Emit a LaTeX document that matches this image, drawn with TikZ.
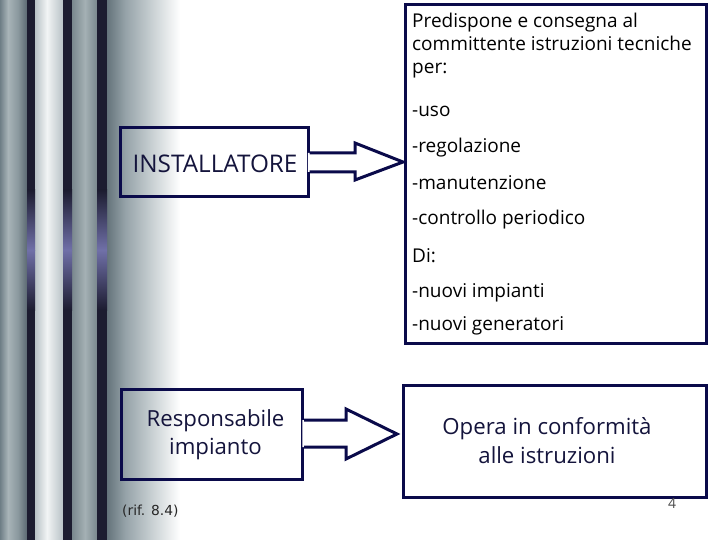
\documentclass[tikz,border=0pt]{standalone}
\usepackage{fontspec}
\setmainfont{Open Sans}
\newfontfamily\verdanalike{DejaVu Sans}
\definecolor{navy}{HTML}{0A0A4A}
\definecolor{txtnavy}{HTML}{14143C}
\definecolor{stripedark}{HTML}{1C1C30}
\definecolor{stripeglow}{HTML}{7070A8}
\definecolor{g0}{HTML}{5F6E76}
\definecolor{g1}{HTML}{95A2A8}
\definecolor{g2}{HTML}{C5CDD0}
\definecolor{s1}{HTML}{6E7E86}
\definecolor{s2}{HTML}{A8B4B8}
\definecolor{s3}{HTML}{8A989E}
\definecolor{s4}{HTML}{5C6A72}
\definecolor{s5}{HTML}{B8C2C6}
\definecolor{s6}{HTML}{F2F4F5}
\definecolor{s7}{HTML}{7A888E}
\definecolor{s8}{HTML}{A4B0B4}
\begin{document}
\begin{tikzpicture}[x=1pt,y=-1pt,
  boxst/.style={draw=navy,line width=3pt,inner sep=0pt},
  arrst/.style={draw=navy,line width=3pt,line join=miter},
  big/.style={font=\fontsize{22.2}{28}\selectfont,text=txtnavy,align=center},
  lst/.style={font=\fontsize{19}{23}\selectfont,anchor=base west,inner sep=0pt,align=left}]
\useasboundingbox (0,0) rectangle (720,540);
\fill[white] (0,0) rectangle (720,540);
% background gradient
\shade[left color=g0, right color=g1] (105,0) rectangle (125,540);
\shade[left color=g1, right color=g2] (125,0) rectangle (150,540);
\shade[left color=g2, right color=white] (150,0) rectangle (180,540);
% stripes
\shade[left color=s1, right color=s2] (0,0) rectangle (8,540);
\shade[left color=s2, right color=s3] (8,0) rectangle (18,540);
\shade[left color=s3, right color=s4] (18,0) rectangle (27,540);
\shade[left color=s5, right color=s6] (35,0) rectangle (47,540);
\shade[left color=s6, right color=s5] (47,0) rectangle (63,540);
\shade[left color=s7, right color=s8] (72,0) rectangle (85,540);
\shade[left color=s8, right color=s7] (85,0) rectangle (97,540);
\foreach \a/\b in {27/35,63/72,97/107}{
  \fill[stripedark] (\a,0) rectangle (\b,190);
  \shade[top color=stripedark,bottom color=stripeglow] (\a,190) rectangle (\b,250);
  \shade[top color=stripeglow,bottom color=stripedark] (\a,250) rectangle (\b,310);
  \fill[stripedark] (\a,310) rectangle (\b,540);
}
% boxes
\node[boxst,minimum width=301pt,minimum height=338pt] (info) at (555.5,174) {};
\node[boxst,minimum width=303pt,minimum height=112pt] (opera) at (554.5,441) {};
\node[boxst,minimum width=188pt,minimum height=69pt] (inst) at (214,162) {};
\node[boxst,minimum width=181pt,minimum height=90pt] (resp) at (212,434) {};
\node[big,font=\fontsize{24.3}{28}\selectfont] at ([xshift=1pt,yshift=-2pt]inst.center) {INSTALLATORE};
\node[big] at ([xshift=3.5pt,yshift=-1pt]resp.center) {Responsabile\\impianto};
\node[big,font=\fontsize{22.2}{29}\selectfont] at ([xshift=-7.5pt]opera.center) {Opera in conformità\\alle istruzioni};
% arrows
\coordinate (t1) at (403,162);
\coordinate (t2) at (397,434);
\fill[white] ([xshift=-1.6pt]inst.east |- 0,153) -- (355,153) -- (355,143) -- (t1) -- (355,180) -- (355,172) -- ([xshift=-1.6pt]inst.east |- 0,172) -- cycle;
\draw[arrst] (inst.east |- 0,153) -- (355,153) -- (355,143) -- (t1) -- (355,180) -- (355,172) -- (inst.east |- 0,172);
\fill[white] ([xshift=-1.6pt]resp.east |- 0,420) -- (346,420) -- (346,409) -- (t2) -- (346,459) -- (346,447) -- ([xshift=-1.6pt]resp.east |- 0,447) -- cycle;
\draw[arrst] (resp.east |- 0,420) -- (346,420) -- (346,409) -- (t2) -- (346,459) -- (346,447) -- (resp.east |- 0,447);
% list text
\node[lst] at (412,27.5) {Predispone e consegna al};
\node[lst] at (412,50.5) {committente istruzioni tecniche};
\node[lst] at (412,73.5) {per:};
\node[lst] at (412,116.5) {-uso};
\node[lst] at (412,153) {-regolazione};
\node[lst] at (412,190) {-manutenzione};
\node[lst] at (412,225) {-controllo periodico};
\node[lst] at (412,262) {Di:};
\node[lst] at (412,297) {-nuovi impianti};
\node[lst] at (412,330.5) {-nuovi generatori};
\node[font=\verdanalike\fontsize{13.8}{15}\selectfont,anchor=base west,inner sep=0pt,text=black!85] (rif) at (122,515) {(rif. 8.4)};
\node[font=\fontsize{14}{16}\selectfont,anchor=base,inner sep=0pt,text=black!70] (pg) at (672,508) {4};
\end{tikzpicture}
\end{document}
